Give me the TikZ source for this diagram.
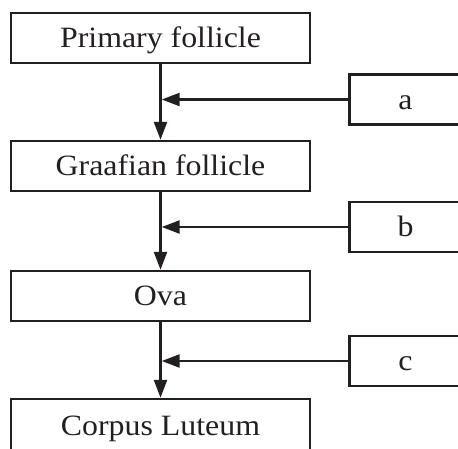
\documentclass[tikz,border=0pt]{standalone}
\usepackage{fontspec}
\setmainfont{Liberation Serif}[FakeStretch=1.08]
\usepackage{xcolor}
\usetikzlibrary{arrows.meta,positioning}
\definecolor{ink}{HTML}{231F20}

\begin{document}
\begin{tikzpicture}[x=1pt,y=-1pt]

\tikzset{stage/.style={draw=ink, line width=2.4pt, minimum width=299pt, minimum height=50pt,
   inner sep=0pt, text=ink, text height=19.5pt, text depth=0pt, font=\fontsize{29.5}{34}\selectfont},
cause/.style={stage, minimum width=112pt},
flow/.style={draw=ink, line width=2.4pt, -{Triangle[length=18pt,width=13pt]}}}

\useasboundingbox (0,0) rectangle (458,448);

% the stages, top to bottom
\foreach \n/\y/\t in {prim/38/Primary follicle, graaf/166/Graafian follicle, ova/296/Ova}
  \node[stage] (\n) at (160.5,\y) {\t};
\node[stage, minimum height=54pt] (corpus) at (160.5,426) {Corpus Luteum};

% boxes on the right
\foreach \n/\y in {a/99.5, b/227, c/361}
  \node[cause] (\n) at (405.5,\y) {\n};

%now the arrows
\foreach \u/\v/\s in {prim/graaf/a, graaf/ova/b, ova/corpus/c}{
  \draw[flow] (\u.south) -- (\v.north);
  \draw[flow, shorten >=1.2pt] (\s.west) -- (\s.west -| \u.south);
}

\end{tikzpicture}
\end{document}
